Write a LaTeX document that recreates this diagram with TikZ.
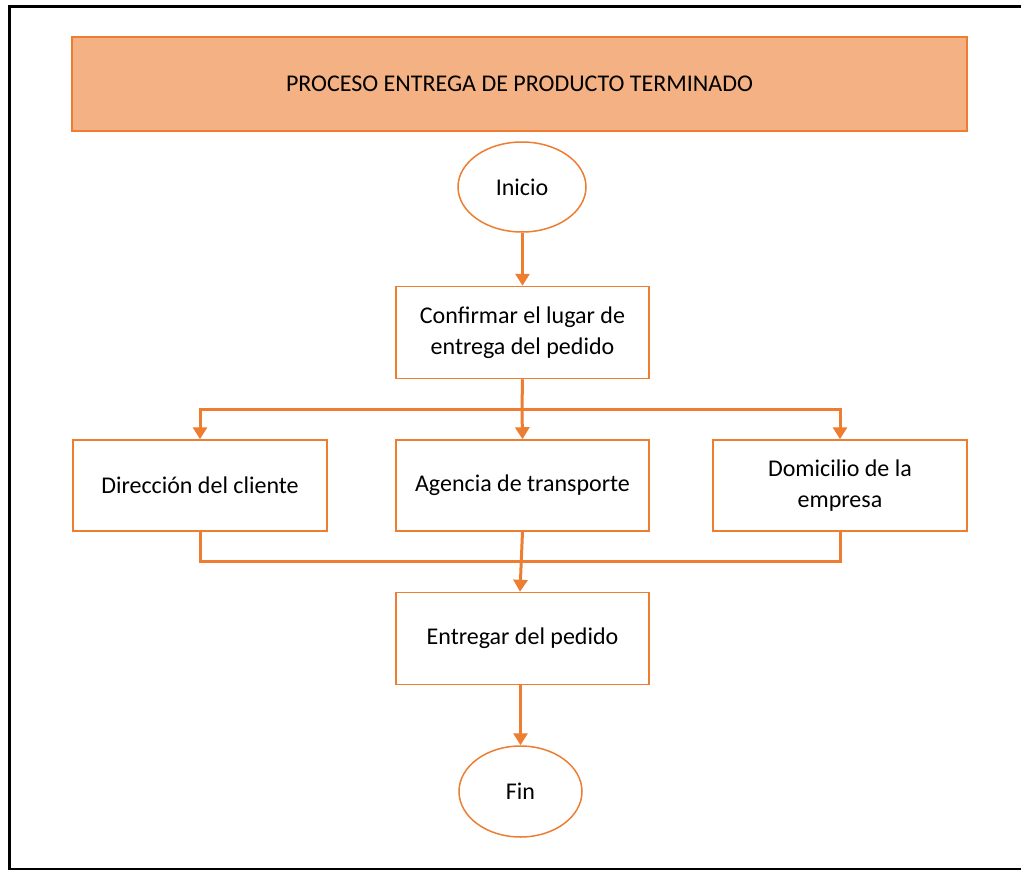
\documentclass[tikz,border=0pt]{standalone}
\usepackage{fontspec}
\setmainfont{Carlito}
\usetikzlibrary{arrows.meta,shapes.geometric}
\definecolor{accent}{HTML}{ED7D31}
\definecolor{headfill}{HTML}{F4B183}
\begin{document}
\begin{tikzpicture}[x=1pt,y=-1pt,
  txt/.style={font=\fontsize{24}{31}\selectfont,align=center,inner sep=0pt},
  box/.style={txt,draw=accent,line width=1.5pt,fill=white,minimum width=253pt,minimum height=91pt},
  terminal/.style={txt,ellipse,draw=accent,line width=1.5pt,fill=white},
  header/.style={txt,draw=accent,line width=2pt,fill=headfill,minimum width=895pt,minimum height=94pt},
  link/.style={accent,line width=3pt},
  conn/.style={link,-{Triangle[width=14pt,length=12pt]}},
  frame/.style={black,line width=3pt}]
\useasboundingbox (0,0) rectangle (1021,870);

% page frame
\draw[frame] (9,870) -- (9,6) -- (1025,6);
\draw[black,line width=2pt] (9,868.5) -- (1025,868.5);

% title bar
\node[header] (title) at (519.5,84) {PROCESO ENTREGA DE PRODUCTO TERMINADO};

% flow nodes
\node[terminal,minimum width=128pt,minimum height=90pt] (inicio) at (522,187) {Inicio};
\node[box,minimum height=92pt] (confirm) at (522.5,332.5) {Confirmar el lugar de\\entrega del pedido};
\node[box,minimum width=254pt] (dir) at (200,485.5) {Dirección del cliente};
\node[box] (agencia) at (522.5,485.5) {Agencia de transporte};
\node[box,minimum width=254pt] (domicilio) at (840,485.5) {Domicilio de la\\empresa};
\node[box,minimum height=92pt] (entregar) at (522.5,638.5) {Entregar del pedido};
\node[terminal,minimum width=123pt,minimum height=91pt] (fin) at (520.5,791.5) {Fin};

% connectors
\coordinate (split) at (522,409);
\coordinate (join) at (520,561);
\draw[conn] (inicio.south -| confirm.north) -- (confirm.north);
\draw[link] (confirm.south) -- (split);
\draw[conn] (split) -| (dir.north);
\draw[conn] (split) -- (agencia.north);
\draw[conn] (split) -| (domicilio.north);
\draw[link] (dir.south) |- (join) -| (domicilio.south);
\draw[conn] (agencia.south) -- (entregar.north -| join);
\draw[conn] (entregar.south -| fin.north) -- (fin.north);
\end{tikzpicture}
\end{document}
